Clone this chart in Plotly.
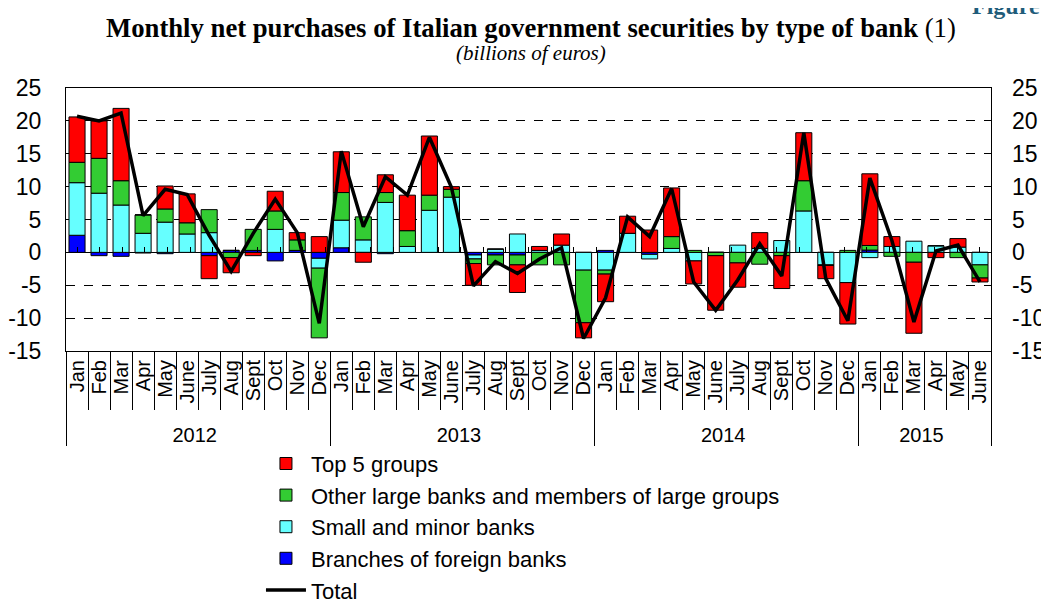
import plotly.graph_objects as go

years = ["2012"] * 12 + ["2013"] * 12 + ["2014"] * 12 + ["2015"] * 6
month_names = ["Jan", "Feb", "Mar", "Apr", "May", "June", "July", "Aug", "Sept", "Oct", "Nov", "Dec"]
months = month_names * 3 + month_names[:6]

top5 = [6.9, 5.7, 11.0, 0.0, 3.5, 4.4, -3.5, -2.3, -0.5, 3.0, 1.1, 2.4,
        6.2, -1.5, 2.7, 5.4, 9.0, 0.4, -3.3, 0.0, -4.2, 0.6, 1.7, -2.3,
        -4.2, 2.6, 3.4, 7.4, -3.5, -8.3, -3.7, 2.4, -5.0, 7.3, -2.0, -6.3,
        10.9, 1.5, -10.8, -0.8, 1.3, -0.6]
other_large = [3.1, 5.3, 3.7, 2.8, 2.0, 1.7, 3.5, -0.8, 3.2, 2.8, 1.6, -10.6,
               4.2, 3.5, 1.5, 2.4, 2.3, 1.2, -0.7, -1.5, -1.5, -1.9, -1.9, -8.0,
               -0.6, 0.0, 0.0, 1.8, 0.3, -0.5, -1.6, -1.8, -0.5, 4.6, -0.1, 0.3,
               0.7, -0.6, -1.5, 0.0, -0.8, -2.0]
small_minor = [8.0, 9.0, 7.2, 2.9, 4.6, 2.8, 3.0, 0.0, 0.0, 3.5, 0.0, -1.5,
               4.2, 1.9, 7.6, 0.9, 6.4, 8.4, -0.6, 0.5, 2.8, 0.3, 1.1, -2.7,
               -2.7, 2.9, -0.7, 0.6, -1.3, 0.0, 1.1, 0.6, 1.8, 6.3, -1.9, -4.6,
               -0.8, 0.9, 1.7, 1.0, 0.8, -1.9]
foreign = [2.6, -0.5, -0.6, -0.1, -0.2, 0.0, -0.5, 0.3, 0.3, -1.3, 0.3, -0.9,
           0.7, 0.0, -0.2, 0.0, 0.0, 0.0, -0.4, -0.4, -0.4, 0.0, 0.0, 0.0,
           0.3, 0.0, -0.3, 0.0, 0.0, 0.0, 0.0, 0.0, 0.0, 0.0, 0.0, 0.0,
           0.35, 0.0, 0.0, 0.0, 0.0, 0.0]
total = [20.7, 20.0, 21.2, 5.6, 9.6, 8.8, 2.6, -2.9, 2.9, 8.1, 3.0, -10.8,
         15.4, 3.9, 11.5, 8.7, 17.5, 9.9, -5.1, -1.4, -3.2, -1.0, 0.7, -13.1,
         -6.9, 5.4, 2.4, 9.7, -4.5, -8.8, -4.2, 1.3, -3.6, 18.2, -4.0, -10.4,
         11.3, 1.8, -10.6, 0.2, 1.1, -4.5]

y_ticks = [-15, -10, -5, 0, 5, 10, 15, 20, 25]
y_tick_labels = ["-15", "-10", "-5", "0", "5", "10", "15", "20", "25"]

FONT = "Liberation Sans, Arial, sans-serif"
SERIF = "Liberation Serif, Times New Roman, serif"

x = [years, months]

fig = go.Figure()
series = [
    ("Branches of foreign banks", foreign, "#0000FF", 4),
    ("Small and minor banks", small_minor, "#66FFFF", 3),
    ("Other large banks and members of large groups", other_large, "#33CC33", 2),
    ("Top 5 groups", top5, "#FF0000", 1),
]
for name, vals, color, rank in series:
    fig.add_trace(go.Bar(
        x=x, y=vals, name=name, legendrank=rank,
        marker=dict(color=color, line=dict(color="#000000", width=1)),
    ))
fig.add_trace(go.Scatter(
    x=x, y=total, name="Total", mode="lines", legendrank=5,
    line=dict(color="#000000", width=3.5),
))
# invisible trace carrying the right-hand axis and the zero-line ticks
fig.add_trace(go.Scatter(
    x=x, y=total, xaxis="x2", yaxis="y2", mode="lines", showlegend=False,
    hoverinfo="skip", line=dict(color="rgba(0,0,0,0)", width=0),
))

fig.update_layout(
    width=1041, height=595,
    margin=dict(l=58, r=58, t=80, b=252, autoexpand=False),
    paper_bgcolor="white", plot_bgcolor="white",
    barmode="relative", bargap=0.27,
    font=dict(family=FONT, size=21, color="#000000"),
    showlegend=True,
    legend=dict(
        xref="container", yref="container",
        x=0.243, y=0.2694, xanchor="left", yanchor="top",
        font=dict(family=FONT, size=22, color="#000000"),
        bgcolor="rgba(0,0,0,0)", tracegroupgap=0, itemwidth=40,
    ),
    xaxis=dict(
        type="multicategory",
        tickmode="linear", tick0=0, dtick=1,
        tickangle=-90,
        tickson="boundaries",
        ticks="outside", ticklen=58, tickcolor="#000000", tickwidth=1,
        showdividers=True, dividercolor="#000000", dividerwidth=1,
        showline=True, linecolor="#000000", linewidth=1, mirror=True,
        showgrid=False, automargin=False,
        tickfont=dict(family=FONT, size=20, color="#000000"),
    ),
    xaxis2=dict(
        type="multicategory", overlaying="x", anchor="free", position=0.375,
        tickmode="linear", tick0=0, dtick=1,
        tickson="boundaries", ticks="inside", ticklen=5,
        tickcolor="#000000", tickwidth=1,
        showticklabels=False, showdividers=False, showline=False,
        showgrid=False, zeroline=False, automargin=False,
    ),
    yaxis=dict(
        range=[-15, 25], tickmode="array", tickvals=y_ticks, ticktext=y_tick_labels,
        showgrid=True, gridcolor="#000000", griddash="dash", gridwidth=1,
        zeroline=True, zerolinecolor="#000000", zerolinewidth=1,
        showline=True, linecolor="#000000", linewidth=1, mirror=True,
        ticks="", ticklabelstandoff=19, automargin=False,
        tickfont=dict(family=FONT, size=23, color="#000000"),
    ),
    yaxis2=dict(
        range=[-15, 25], tickmode="array", tickvals=y_ticks, ticktext=y_tick_labels,
        overlaying="y", side="right",
        showgrid=False, zeroline=False, ticks="", ticklabelstandoff=20,
        automargin=False,
        tickfont=dict(family=FONT, size=23, color="#000000"),
    ),
    annotations=[
        dict(text="<b>Monthly net purchases of Italian government securities by type of bank</b> (1)",
             xref="paper", yref="paper", x=0.503, y=1.0, yshift=60, showarrow=False,
             xanchor="center", yanchor="middle",
             font=dict(family=SERIF, size=26.7, color="#000000")),
        dict(text="<i>(billions of euros)</i>",
             xref="paper", yref="paper", x=0.503, y=1.0, yshift=35, showarrow=False,
             xanchor="center", yanchor="middle",
             font=dict(family=SERIF, size=21, color="#000000")),
        dict(text="<b>Figure</b>",
             xref="paper", yref="paper", x=1.0, xshift=51, y=1.0, yshift=82, showarrow=False,
             xanchor="right", yanchor="middle",
             font=dict(family=SERIF, size=24, color="#1F5C7A")),
    ],
)

fig.write_html("out.html")
